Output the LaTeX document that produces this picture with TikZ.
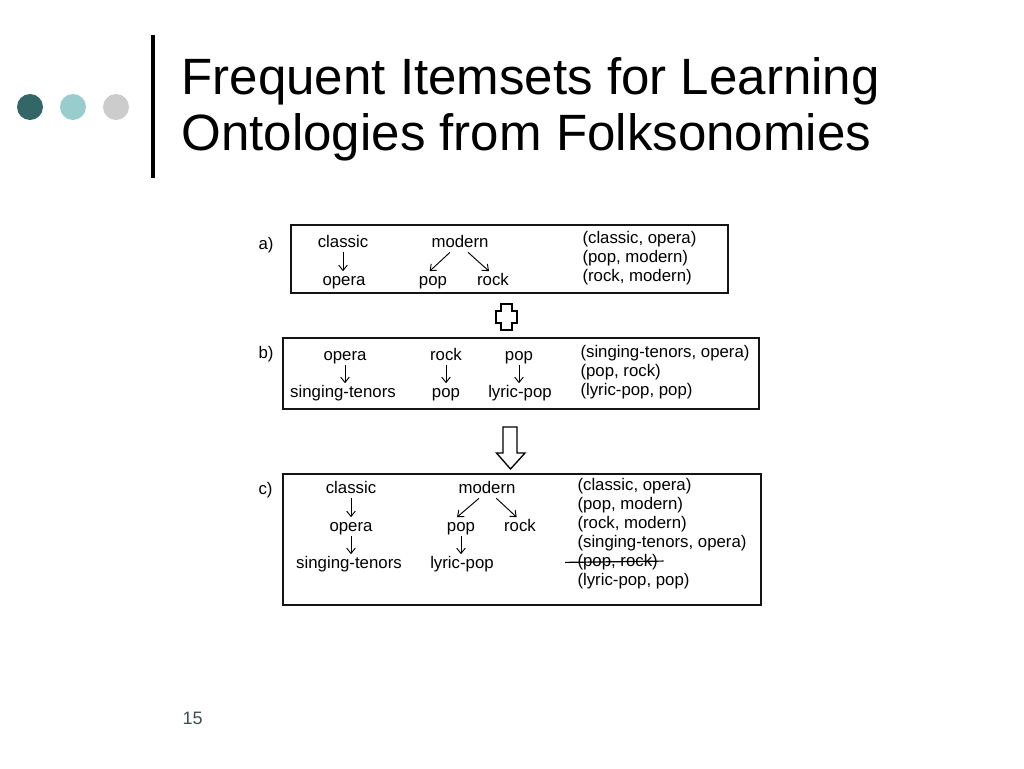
\documentclass[tikz,border=0pt]{standalone}
\usepackage{fontspec}
\setmainfont{Liberation Sans}
\usetikzlibrary{arrows.meta}

\definecolor{dotDark}{RGB}{51,102,102}
\definecolor{dotLight}{RGB}{153,204,204}
\definecolor{dotGray}{RGB}{204,204,204}
\definecolor{pageNum}{RGB}{60,80,80}

\tikzset{every picture/.style={line width=0.75pt}}
\tikzset{
  term/.style={anchor=base, inner sep=1pt, text height=9pt, text depth=2.6pt, font=\fontsize{12.6}{15}\selectfont},
  pair/.style={term, anchor=base west, inner sep=0pt},
  tag/.style={pair},
  link/.style={line width=0.7pt, -{Straight Barb[length=4pt,width=6.5pt]}},
  frame/.style={line width=1pt, color={rgb, 255:red, 20; green, 20; blue, 20 }},
}

\begin{document}
\begin{tikzpicture}[x=0.75pt,y=0.75pt,yscale=-1,xscale=1]
\useasboundingbox (0,0) rectangle (1024,768);
\fill [white] (0,0) rectangle (1024,768);

% Dots
\fill [dotDark] (30,107) circle (13);
\fill [dotLight] (73,107) circle (13);
\fill [dotGray] (116,107) circle (13);
%Straight Lines
\draw [line width=3pt] (153,35) -- (153,178) ;

% Title
\draw (181,94) node [anchor=base west][inner sep=0pt][font=\fontsize{38.3}{43}\selectfont] (titleA) {Frequent Itemsets for Learning};
\draw (181,150) node [anchor=base west][inner sep=0pt][font=\fontsize{38.3}{43}\selectfont] (titleB) {Ontologies from Folksonomies};

%Shape: Rectangle
\draw [frame] (291,225) -- (728,225) -- (728,293) -- (291,293) -- cycle ;
%Shape: Rectangle
\draw [frame] (283,338) -- (759,338) -- (759,409) -- (283,409) -- cycle ;
%Shape: Rectangle
\draw [frame] (283,474) -- (761,474) -- (761,605) -- (283,605) -- cycle ;

%Shape: Plus
\draw [line width=1pt] (501,304) -- (512,304) -- (512,311) -- (517,311) -- (517,323) -- (512,323) -- (512,330) -- (501,330) -- (501,323) -- (496,323) -- (496,311) -- (501,311) -- cycle ;
%Shape: Down Arrow
\draw [line width=1pt] (503,427) -- (517,427) -- (517,453) -- (525,453) -- (510.5,469) -- (496.5,453) -- (503,453) -- cycle ;

% a)
\draw (258,249) node [tag] (tagA) {a)};
\draw (343,247) node [term] (aClassic) {classic};
\draw (344,285) node [term] (aOpera) {opera};
\draw (460,247) node [term] (aModern) {modern};
\draw (433,285) node [term] (aPop) {pop};
\draw (493,285) node [term] (aRock) {rock};
\draw (582,243) node [pair] (pairA1) {(classic, opera)};
\draw (582,262) node [pair] (pairA2) {(pop, modern)};
\draw (582,281) node [pair] (pairA3) {(rock, modern)};

\draw [link] (aClassic.south) -- (aClassic.south |- aOpera.north) ;
\draw [link] ([xshift=-7.5pt]aModern.south) -- ([xshift=-2.5pt]aPop.north) ;
\draw [link] ([xshift=6pt]aModern.south) -- ([xshift=-3pt]aRock.north) ;

% b)
\draw (258,358) node [tag] (tagB) {b)};
\draw (345,360) node [term] (bOpera) {opera};
\draw (343,397) node [term] (bTenors) {singing-tenors};
\draw (446,360) node [term] (bRock) {rock};
\draw (446,397) node [term] (bRockPop) {pop};
\draw (519,360) node [term] (bPop) {pop};
\draw (520,397) node [term] (bLyricPop) {lyric-pop};
\draw (580,357) node [pair] (pairB1) {(singing-tenors, opera)};
\draw (580,376) node [pair] (pairB2) {(pop, rock)};
\draw (580,395) node [pair] (pairB3) {(lyric-pop, pop)};

\draw [link] (bOpera.south) -- (bOpera.south |- bTenors.north) ;
\draw [link] (bRock.south) -- (bRock.south |- bRockPop.north) ;
\draw [link] (bPop.south) -- (bPop.south |- bLyricPop.north) ;

% c)
\draw (258,494) node [tag] (tagC) {c)};
\draw (351,493) node [term] (cClassic) {classic};
\draw (351,531) node [term] (cOpera) {opera};
\draw (349,568) node [term] (cTenors) {singing-tenors};
\draw (487,493) node [term] (cModern) {modern};
\draw (461,531) node [term] (cPop) {pop};
\draw (520,531) node [term] (cRock) {rock};
\draw (462,568) node [term] (cLyricPop) {lyric-pop};
\draw (577,490) node [pair] (pairC1) {(classic, opera)};
\draw (577,509) node [pair] (pairC2) {(pop, modern)};
\draw (577,528) node [pair] (pairC3) {(rock, modern)};
\draw (577,547) node [pair] (pairC4) {(singing-tenors, opera)};
\draw (577,566) node [pair] (pairC5) {(pop, rock)};
\draw (577,585) node [pair] (pairC6) {(lyric-pop, pop)};

\draw [link] (cClassic.south) -- (cClassic.south |- cOpera.north) ;
\draw [link] (cOpera.south) -- (cOpera.south |- cTenors.north) ;
\draw [link] ([xshift=-6pt]cModern.south) -- ([xshift=-3pt]cPop.north) ;
\draw [link] ([xshift=7pt]cModern.south) -- ([xshift=-2.5pt]cRock.north) ;
\draw [link] (cPop.south) -- (cPop.south |- cLyricPop.north) ;
%Straight Lines
\draw [line width=0.9pt] ([xshift=-9pt,yshift=0.5pt]pairC5.west) -- ([xshift=4pt,yshift=-0.5pt]pairC5.east) ;

% Page number
\draw (182,724) node [anchor=base west][inner sep=0pt][font=\fontsize{13.5}{16}\selectfont][color=pageNum] (pageNo) {15};

\end{tikzpicture}
\end{document}
